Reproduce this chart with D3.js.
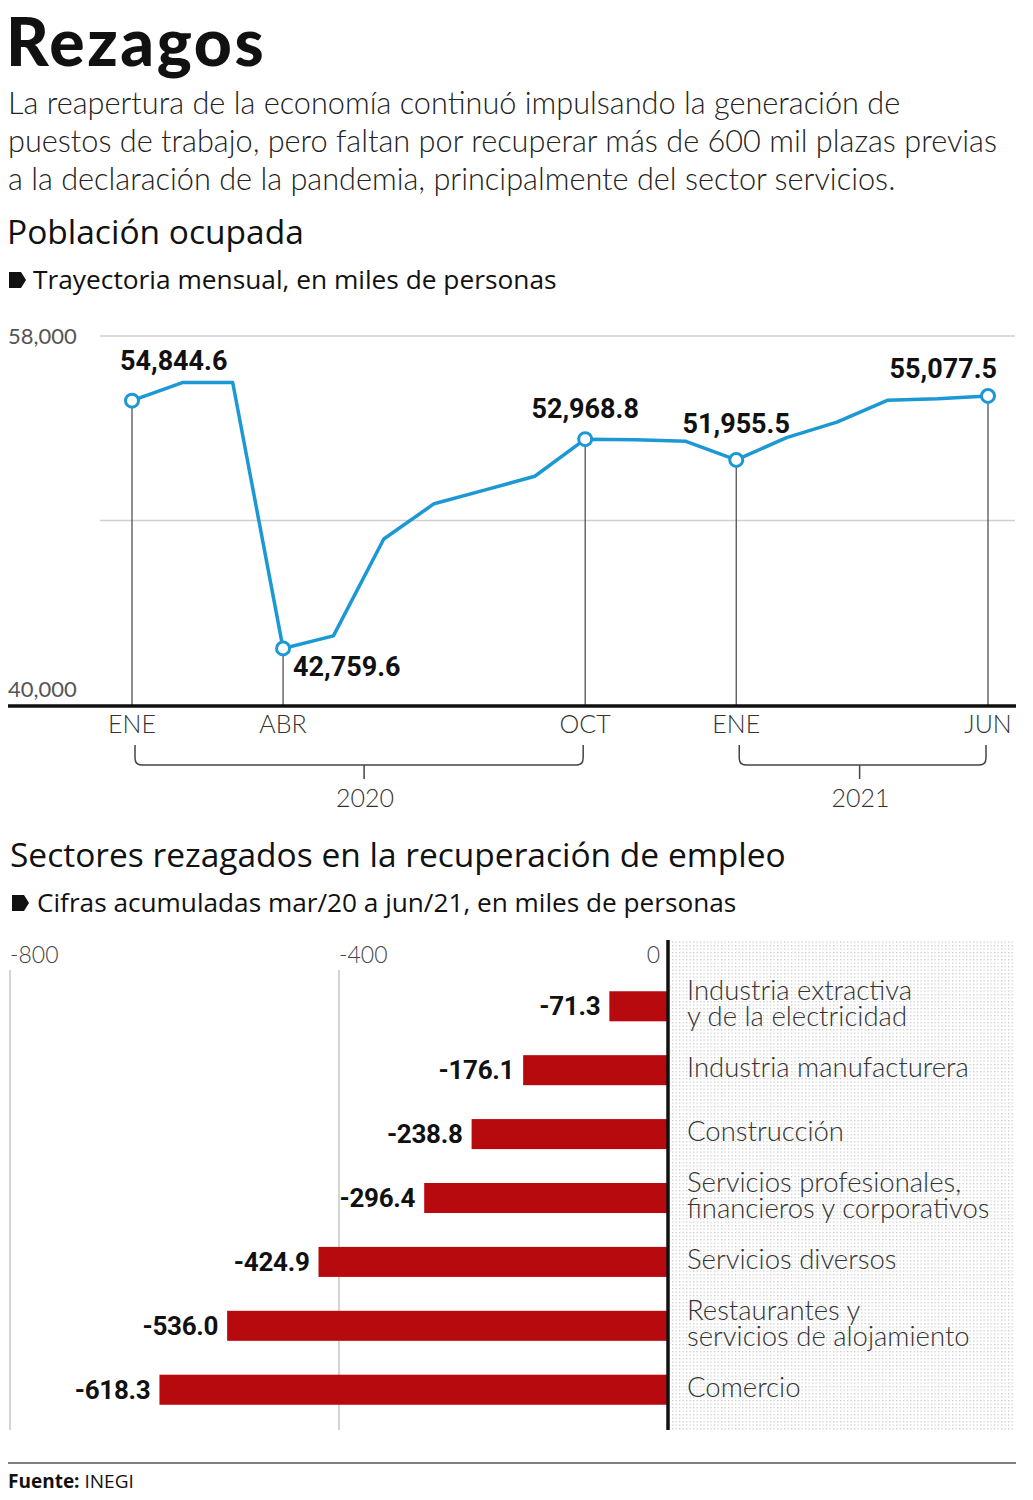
<!DOCTYPE html>
<html>
<head>
<meta charset="utf-8">
<script src="https://cdn.jsdelivr.net/npm/d3@7"></script>
<style>
  html, body { margin: 0; padding: 0; background: #fff; }
  svg { display: block; }
</style>
</head>
<body>
<svg id="chart" width="1033" height="1500"></svg>
<script>
// ---------- DATA ----------
const months = ["ENE 2020","FEB 2020","MAR 2020","ABR 2020","MAY 2020","JUN 2020","JUL 2020","AGO 2020","SEP 2020","OCT 2020","NOV 2020","DIC 2020","ENE 2021","FEB 2021","MAR 2021","ABR 2021","MAY 2021","JUN 2021"];
const ocupada = [54844.6, 55730, 55730, 42759.6, 43370, 48100, 49820, 50480, 51160, 52968.8, 52940, 52860, 51955.5, 53040, 53800, 54860, 54940, 55077.5];
const highlightIdx = [0, 3, 9, 12, 17];
const monthTickIdx = [0, 3, 9, 12, 17];
const monthTickLabels = ["ENE", "ABR", "OCT", "ENE", "JUN"];
const yTickValues = [58000, 40000];
const yGridValues = [58000, 49000];
const years = ["2020", "2021"];
const yearSpans = [[0, 9], [12, 17]];

const sectores = [
  ["Industria extractiva", "y de la electricidad"],
  ["Industria manufacturera"],
  ["Construcción"],
  ["Servicios profesionales,", "financieros y corporativos"],
  ["Servicios diversos"],
  ["Restaurantes y", "servicios de alojamiento"],
  ["Comercio"]
];
const rezago = [-71.3, -176.1, -238.8, -296.4, -424.9, -536.0, -618.3];
const xBarTicks = [-800, -400, 0];

// ---------- SETUP ----------
const svg = d3.select("#chart");
const BLUE = "#1c98d4";
const RED = "#b70a0f";
const lightFont = "Lato, 'Open Sans', sans-serif";
const headFont = "'Open Sans', 'Noto Sans', sans-serif";
const numFont = "Roboto, 'Liberation Sans', sans-serif";

function bullet(g, x, y) {
  g.append("path")
    .attr("d", `M${x},${y - 8} L${x + 12},${y - 8} L${x + 17},${y} L${x + 12},${y + 8} L${x},${y + 8} Z`)
    .attr("fill", "#111");
}

// ---------- HEADER ----------
svg.append("text").attr("x", 6).attr("y", 66)
  .attr("font-family", "Lato, sans-serif").attr("font-weight", 900)
  .attr("font-size", 66).attr("letter-spacing", 2.6).attr("fill", "#111").text("Rezagos");

const intro = [
  "La reapertura de la economía continuó impulsando la generación de",
  "puestos de trabajo, pero faltan por recuperar más de 600 mil plazas previas",
  "a la declaración de la pandemia, principalmente del sector servicios."
];
svg.append("g").selectAll("text").data(intro).join("text")
  .attr("x", 8).attr("y", (d, i) => 114 + i * 38)
  .attr("font-family", lightFont).attr("font-weight", 300)
  .attr("font-size", 30.7).attr("fill", "#222").text(d => d);

svg.append("text").attr("x", 7).attr("y", 244)
  .attr("font-family", headFont).attr("font-weight", 500)
  .attr("font-size", 33.5).attr("fill", "#111").text("Población ocupada");

const sub1 = svg.append("g");
bullet(sub1, 9, 280);
sub1.append("text").attr("x", 33).attr("y", 289)
  .attr("font-family", headFont).attr("font-weight", 500)
  .attr("font-size", 26.3).attr("fill", "#111").text("Trayectoria mensual, en miles de personas");

// ---------- LINE CHART ----------
const x = d3.scaleLinear().domain([0, months.length - 1]).range([132, 988]);
const y = d3.scaleLinear().domain([40000, 58000]).range([705, 336]);

const lc = svg.append("g");

lc.append("g").selectAll("line").data(yGridValues).join("line")
  .attr("x1", 100).attr("x2", 1015)
  .attr("y1", d => y(d)).attr("y2", d => y(d))
  .attr("stroke", "#cfcfcf").attr("stroke-width", 1.5);

lc.append("g").selectAll("text").data(yTickValues).join("text")
  .attr("x", 8).attr("y", d => y(d) + (d === 40000 ? -8 : 8))
  .attr("font-family", lightFont).attr("font-weight", 400)
  .attr("font-size", 22).attr("fill", "#555").text(d => d3.format(",")(d));

lc.append("g").selectAll("line").data(highlightIdx).join("line")
  .attr("x1", i => x(i)).attr("x2", i => x(i))
  .attr("y1", i => y(ocupada[i])).attr("y2", y(40000))
  .attr("stroke", "#444").attr("stroke-width", 1.2);

lc.append("path").datum(ocupada)
  .attr("d", d3.line().x((d, i) => x(i)).y(d => y(d)))
  .attr("fill", "none").attr("stroke", BLUE).attr("stroke-width", 3.5)
  .attr("stroke-linejoin", "round");

lc.append("g").selectAll("circle").data(highlightIdx).join("circle")
  .attr("cx", i => x(i)).attr("cy", i => y(ocupada[i])).attr("r", 6.5)
  .attr("fill", "#fff").attr("stroke", BLUE).attr("stroke-width", 3);

const labelPos = { 0: [-12, -31, "start"], 3: [10, 28, "start"], 9: [0, -21, "middle"], 12: [0, -27, "middle"], 17: [9, -18, "end"] };
lc.append("g").selectAll("text").data(highlightIdx).join("text")
  .attr("x", i => x(i) + labelPos[i][0]).attr("y", i => y(ocupada[i]) + labelPos[i][1])
  .attr("text-anchor", i => labelPos[i][2])
  .attr("font-family", numFont).attr("font-weight", 700)
  .attr("font-size", 27).attr("fill", "#111")
  .text(i => d3.format(",.1f")(ocupada[i]));

lc.append("line").attr("x1", 8).attr("x2", 1016)
  .attr("y1", y(40000) + 1).attr("y2", y(40000) + 1)
  .attr("stroke", "#111").attr("stroke-width", 3.5);

lc.append("g").selectAll("text").data(monthTickIdx).join("text")
  .attr("x", i => x(i)).attr("y", 733)
  .attr("text-anchor", "middle")
  .attr("font-family", lightFont).attr("font-weight", 300)
  .attr("font-size", 25).attr("fill", "#333")
  .text((d, k) => monthTickLabels[k]);

const br = lc.append("g");
yearSpans.forEach((s, k) => {
  const x0 = x(s[0]) + 3, x1 = x(s[1]) - 2, yt = 745, yb = 765, r = 7;
  br.append("path")
    .attr("d", `M${x0},${yt} L${x0},${yb - r} Q${x0},${yb} ${x0 + r},${yb} L${x1 - r},${yb} Q${x1},${yb} ${x1},${yb - r} L${x1},${yt}`)
    .attr("fill", "none").attr("stroke", "#444").attr("stroke-width", 1.5);
  const xm = (x0 + x1) / 2 + (k === 0 ? 5 : -3);
  br.append("line").attr("x1", xm).attr("x2", xm).attr("y1", yb).attr("y2", yb + 14)
    .attr("stroke", "#444").attr("stroke-width", 1.5);
  br.append("text").attr("x", xm + 1).attr("y", 807).attr("text-anchor", "middle")
    .attr("font-family", lightFont).attr("font-weight", 300)
    .attr("font-size", 25).attr("fill", "#333").text(years[k]);
});

// ---------- BAR CHART ----------
svg.append("text").attr("x", 10).attr("y", 867)
  .attr("font-family", headFont).attr("font-weight", 500)
  .attr("font-size", 33.5).attr("fill", "#111").text("Sectores rezagados en la recuperación de empleo");

const sub2 = svg.append("g");
bullet(sub2, 12, 903);
sub2.append("text").attr("x", 37).attr("y", 912)
  .attr("font-family", headFont).attr("font-weight", 500)
  .attr("font-size", 26.2).attr("fill", "#111").text("Cifras acumuladas mar/20 a jun/21, en miles de personas");

const xb = d3.scaleLinear().domain([-800, 0]).range([10, 668]);
const yb = d3.scaleBand().domain(d3.range(rezago.length)).range([974, 1422]).paddingInner(0.53).paddingOuter(0.27);

const defs = svg.append("defs");
const pat = defs.append("pattern").attr("id", "dots").attr("patternUnits", "userSpaceOnUse")
  .attr("width", 3.5).attr("height", 3.5);
pat.append("rect").attr("width", 1.3).attr("height", 1.3).attr("fill", "#cbcbcb");

const bc = svg.append("g");
bc.append("rect").attr("x", 670).attr("y", 940).attr("width", 345).attr("height", 490)
  .attr("fill", "url(#dots)");

bc.append("g").selectAll("line").data(xBarTicks.filter(d => d !== 0)).join("line")
  .attr("x1", d => xb(d)).attr("x2", d => xb(d))
  .attr("y1", 970).attr("y2", 1430)
  .attr("stroke", "#d4d4d4").attr("stroke-width", 2);

bc.append("g").selectAll("text").data(xBarTicks).join("text")
  .attr("x", d => d === 0 ? xb(d) - 8 : xb(d))
  .attr("y", 963)
  .attr("text-anchor", d => d === 0 ? "end" : "start")
  .attr("font-family", lightFont).attr("font-weight", 300)
  .attr("font-size", 23).attr("fill", "#444").text(d => d);

bc.append("g").selectAll("rect").data(rezago).join("rect")
  .attr("x", d => xb(d)).attr("width", d => xb(0) - xb(d))
  .attr("y", (d, i) => yb(i)).attr("height", yb.bandwidth())
  .attr("fill", RED);

bc.append("g").selectAll("text").data(rezago).join("text")
  .attr("x", d => xb(d) - 9).attr("y", (d, i) => yb(i) + yb.bandwidth() / 2 + 9)
  .attr("text-anchor", "end")
  .attr("font-family", numFont).attr("font-weight", 700)
  .attr("font-size", 26).attr("letter-spacing", -0.3).attr("fill", "#111")
  .text(d => d3.format(".1f")(d).replace("−", "-"));

bc.append("line").attr("x1", xb(0)).attr("x2", xb(0)).attr("y1", 940).attr("y2", 1430)
  .attr("stroke", "#111").attr("stroke-width", 3.5);

bc.append("g").selectAll("text").data(sectores).join("text")
  .attr("font-family", lightFont).attr("font-weight", 300)
  .attr("font-size", 27.5).attr("fill", "#333")
  .each(function (lines, i) {
    const cy = yb(i) + yb.bandwidth() / 2 - 2;
    const n = lines.length;
    d3.select(this).selectAll("tspan").data(lines).join("tspan")
      .attr("x", 687)
      .attr("y", (t, j) => cy + (j - (n - 1) / 2) * 26 + 9)
      .text(t => t);
  });

// ---------- FOOTER ----------
svg.append("line").attr("x1", 8).attr("x2", 1016).attr("y1", 1463).attr("y2", 1463)
  .attr("stroke", "#555").attr("stroke-width", 1.5);
const ft = svg.append("text").attr("x", 8).attr("y", 1488)
  .attr("font-family", headFont).attr("font-size", 19).attr("fill", "#111");
ft.append("tspan").attr("font-weight", 700).text("Fuente:");
ft.append("tspan").attr("font-weight", 400).text(" INEGI");
</script>
</body>
</html>
